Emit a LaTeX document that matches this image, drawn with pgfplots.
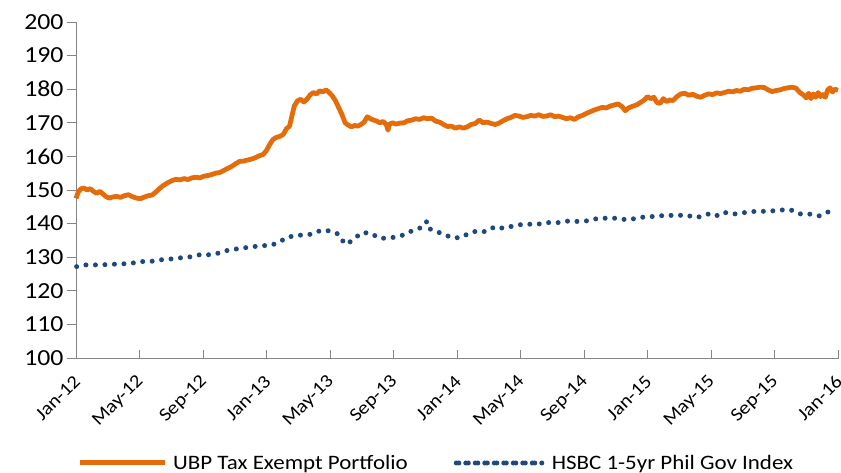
\documentclass[border=0pt]{standalone}
\usepackage{fontspec}
\setmainfont{Carlito}[FakeStretch=1.12]
\usepackage{pgfplots}
\pgfplotsset{compat=1.18}
\definecolor{uorange}{HTML}{E46C0A}
\definecolor{hblue}{HTML}{1F497D}
\definecolor{axgray}{HTML}{868686}
\pgfplotsset{
  orangeleg/.style={legend image code/.code={\draw[#1, line width=5pt] (0pt,0pt) -- (85pt,0pt);}},
  blueleg/.style={legend image code/.code={\path (0pt,0pt) -- (87pt,0pt); \draw[#1] (2.5pt,0pt) -- (79pt,0pt);}},
}
\begin{document}
\begin{tikzpicture}
\begin{axis}[
  at={(76pt,115pt)}, anchor=south west,
  scale only axis, width=762pt, height=336pt,
  xmin=0, xmax=48, ymin=100, ymax=200,
  axis x line=bottom, axis y line=left,
  axis line style={draw=axgray, line width=0.9pt, -},
  xtick={0,4,...,48},
  xticklabels={Jan-12,May-12,Sep-12,Jan-13,May-13,Sep-13,Jan-14,May-14,Sep-14,Jan-15,May-15,Sep-15,Jan-16},
  ytick={100,110,...,200},
  tick align=outside, major tick length=9pt,
  tick style={draw=axgray, line width=0.9pt},
  xtick style={yshift=8pt},
  /pgf/number format/assume math mode=true,
  yticklabel style={font=\fontsize{23}{23}\selectfont, text=black},
  xticklabel style={font=\fontsize{18.5}{18.5}\selectfont, text=black, rotate=45, anchor=east, yshift=-9pt, xshift=-4pt},
  clip=false,
  legend columns=2,
  legend style={draw=none, fill=none, at={(axis description cs:0,0)}, anchor=west,
    xshift=1pt, yshift=-105pt, inner sep=0pt, font=\fontsize{20.5}{20.5}\selectfont,
    column sep=6pt, nodes={inner sep=0pt, text=black},
    /tikz/every even column/.append style={column sep=46pt}},
]
\addplot[color=uorange, line width=4.8pt, line join=round, orangeleg]
coordinates {
(0.00,147.5)(0.15,149.5)(0.30,150.3)(0.50,150.6)(0.70,150.0)(0.90,150.4)(1.10,149.6)(1.30,149.0)
(1.50,149.6)(1.70,148.8)(1.90,148.0)(2.10,147.6)(2.30,147.9)(2.55,148.1)(2.80,147.8)(3.05,148.3)
(3.30,148.6)(3.55,148.0)(3.80,147.6)(4.05,147.4)(4.30,147.9)(4.55,148.3)(4.80,148.5)(5.05,149.5)
(5.30,150.6)(5.55,151.5)(5.80,152.2)(6.05,152.8)(6.30,153.2)(6.55,153.0)(6.80,153.4)(7.05,153.1)
(7.30,153.6)(7.55,153.8)(7.80,153.6)(8.05,154.1)(8.30,154.3)(8.55,154.6)(8.80,155.0)(9.05,155.2)
(9.30,155.8)(9.55,156.4)(9.80,157.0)(10.05,157.8)(10.30,158.5)(10.55,158.6)(10.80,158.9)(11.05,159.2)
(11.30,159.6)(11.55,160.2)(11.80,160.6)(12.00,161.8)(12.20,163.5)(12.40,165.0)(12.60,165.6)(12.85,166.0)
(13.05,166.5)(13.25,168.2)(13.45,169.0)(13.60,172.0)(13.75,175.0)(13.95,176.5)(14.15,177.0)(14.35,176.2)
(14.55,177.0)(14.75,178.3)(14.95,179.0)(15.15,178.6)(15.35,179.5)(15.55,179.2)(15.75,179.8)(15.95,179.0)
(16.15,178.0)(16.35,176.5)(16.55,174.5)(16.75,172.5)(16.95,170.0)(17.15,169.3)(17.35,168.8)(17.55,169.2)
(17.75,169.0)(17.95,169.5)(18.15,170.2)(18.35,171.8)(18.55,171.2)(18.75,170.8)(18.95,170.5)(19.15,170.0)
(19.35,170.4)(19.55,169.5)(19.65,167.8)(19.75,169.6)(19.95,170.0)(20.15,169.6)(20.40,169.9)(20.65,170.0)
(20.90,170.6)(21.15,170.8)(21.40,171.2)(21.65,171.0)(21.90,171.5)(22.15,171.2)(22.40,171.4)(22.65,170.5)
(22.90,170.2)(23.15,169.5)(23.40,168.9)(23.65,169.0)(23.90,168.4)(24.15,168.8)(24.40,168.4)(24.65,168.8)
(24.90,169.5)(25.15,169.8)(25.40,170.8)(25.65,170.0)(25.90,170.2)(26.15,169.8)(26.40,169.5)(26.65,169.9)
(26.90,170.6)(27.15,171.2)(27.40,171.6)(27.65,172.2)(27.90,172.0)(28.15,171.6)(28.40,171.8)(28.65,172.2)
(28.90,172.0)(29.15,172.4)(29.40,171.9)(29.65,172.0)(29.90,172.4)(30.15,171.8)(30.40,172.0)(30.65,171.6)
(30.90,171.2)(31.15,171.5)(31.40,171.0)(31.65,171.8)(31.90,172.2)(32.15,172.8)(32.40,173.3)(32.65,173.8)
(32.90,174.2)(33.15,174.6)(33.40,174.4)(33.65,175.0)(33.90,175.3)(34.15,175.6)(34.40,174.8)(34.60,173.6)
(34.80,174.4)(35.05,174.9)(35.30,175.3)(35.55,176.0)(35.80,176.8)(36.00,177.8)(36.20,177.2)(36.40,177.6)
(36.60,176.0)(36.80,175.8)(37.00,177.2)(37.20,176.3)(37.40,176.8)(37.60,176.6)(37.85,177.8)(38.10,178.6)
(38.35,178.8)(38.60,178.2)(38.85,178.5)(39.10,177.9)(39.35,177.6)(39.60,178.2)(39.85,178.6)(40.10,178.4)
(40.35,178.9)(40.60,178.7)(40.85,179.0)(41.10,179.4)(41.35,179.2)(41.60,179.6)(41.85,179.4)(42.10,180.0)
(42.35,179.8)(42.60,180.3)(42.85,180.4)(43.10,180.6)(43.35,180.5)(43.60,179.8)(43.85,179.3)(44.10,179.6)
(44.35,179.8)(44.60,180.2)(44.85,180.4)(45.10,180.6)(45.35,180.3)(45.60,179.0)(45.85,178.2)(46.00,177.4)
(46.15,178.8)(46.30,177.2)(46.45,178.6)(46.60,177.6)(46.75,179.0)(46.90,177.8)(47.05,178.4)(47.20,177.6)
(47.35,179.8)(47.50,180.4)(47.65,179.2)(47.80,180.0)(48.00,179.7)
};
\addlegendentry{UBP Tax Exempt Portfolio}
\addplot[color=hblue, line width=5pt, line cap=round, dash pattern=on 0pt off 9.5pt, blueleg]
coordinates {
(0.04,127.2)(0.46,127.7)(1.5,127.7)(2.77,128.0)(3.4,128.1)(4.03,128.7)(4.66,128.7)(5.29,129.2)
(6.03,129.5)(6.76,129.9)(7.39,130.2)(7.92,130.9)(8.44,130.7)(9.07,131.3)(9.59,132.1)(10.33,132.6)
(11.07,133.1)(11.7,133.4)(12.33,133.6)(12.85,134.6)(13.27,135.9)(13.8,136.4)(14.22,136.6)(14.74,136.8)
(15.16,137.6)(15.69,138.1)(16.11,137.6)(16.52,136.9)(16.84,134.6)(17.05,133.8)(17.47,135.3)(18.0,137.3)
(18.52,137.2)(19.15,135.6)(19.67,135.7)(19.99,135.9)(20.62,136.6)(21.04,137.6)(21.56,138.4)(21.98,139.6)
(22.09,140.6)(22.19,138.6)(22.72,137.6)(23.14,136.9)(23.67,135.8)(24.23,135.8)(24.82,137.3)(25.28,137.8)
(25.81,137.6)(26.39,139.1)(26.92,138.6)(27.65,139.4)(28.28,139.9)(28.96,139.7)(29.65,140.3)(30.38,140.3)
(31.07,140.8)(31.7,140.6)(32.33,140.9)(32.9,141.6)(33.43,141.6)(34.02,141.6)(34.75,141.1)(35.53,141.8)
(36.05,142.1)(36.58,142.1)(37.21,142.6)(37.73,142.3)(38.36,142.6)(39.06,141.8)(39.52,142.3)(39.98,143.1)
(40.46,142.3)(40.88,143.3)(41.4,142.8)(42.0,143.2)(42.56,143.6)(43.15,143.6)(43.72,143.8)(44.18,143.8)
(44.66,144.2)(45.18,143.9)(45.61,142.9)(46.13,142.9)(46.82,142.3)(47.29,143.3)(47.81,144.3)
};
\addlegendentry{HSBC 1-5yr Phil Gov Index}
\end{axis}
\pgfresetboundingbox
\useasboundingbox (0,0) rectangle (841pt,473pt);
\end{tikzpicture}
\end{document}
